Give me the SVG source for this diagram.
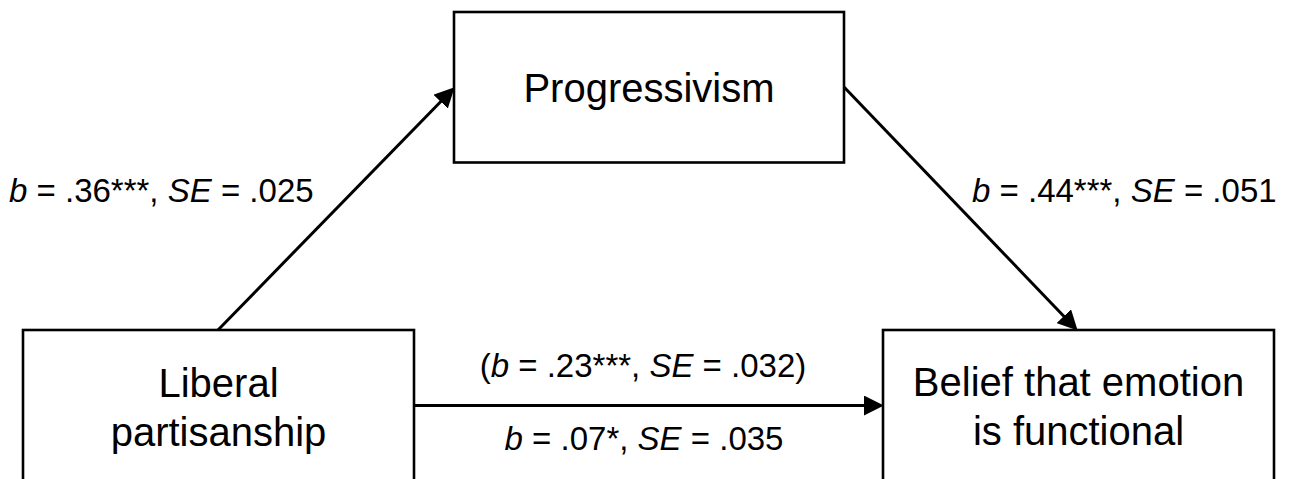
<svg xmlns="http://www.w3.org/2000/svg" width="1291" height="479" viewBox="0 0 1291 479">
<style>
.box{fill:#fff;stroke:#000;stroke-width:2.6}
.node{font-family:"Liberation Sans",Arial,sans-serif;font-size:40px;fill:#000;text-anchor:middle}
.lbl{font-family:"Liberation Sans",Arial,sans-serif;font-size:33px;fill:#000}
.it{font-style:italic}
.conn{stroke:#000;stroke-width:3;fill:none;marker-end:url(#ah)}
</style>
<defs>
<marker id="ah" markerUnits="userSpaceOnUse" markerWidth="20" markerHeight="20" refX="10" refY="9" orient="auto" viewBox="0 0 18 18">
<path d="M0,0 L18,9 L0,18 Z" fill="#000"/>
</marker>
</defs>
<rect width="1291" height="479" fill="#fff"/>
<g id="connectors">
<line class="conn" x1="218" y1="330" x2="448.4" y2="93.7"/>
<line class="conn" x1="844" y1="87" x2="1071.5" y2="324.2"/>
<line class="conn" x1="414" y1="405.5" x2="875" y2="405.5"/>
</g>
<g id="progressivism">
<rect class="box" x="454" y="12" width="390" height="150.5"/>
<text class="node" x="649" y="102">Progressivism</text>
</g>
<g id="liberal">
<rect class="box" x="23" y="330" width="391" height="200"/>
<text class="node" x="218.5" y="397">Liberal</text>
<text class="node" x="218.5" y="446">partisanship</text>
</g>
<g id="belief">
<rect class="box" x="883" y="330" width="391" height="200"/>
<text class="node" x="1078.5" y="396">Belief that emotion</text>
<text class="node" x="1078.5" y="445">is functional</text>
</g>
<g id="labels">
<text class="lbl" x="9" y="202"><tspan class="it">b</tspan> = .36***, <tspan class="it">SE</tspan> = .025</text>
<text class="lbl" x="972" y="202"><tspan class="it">b</tspan> = .44***, <tspan class="it">SE</tspan> = .051</text>
<text class="lbl" x="643" y="377" text-anchor="middle">(<tspan class="it">b</tspan> = .23***, <tspan class="it">SE</tspan> = .032)</text>
<text class="lbl" x="644" y="450" text-anchor="middle"><tspan class="it">b</tspan> = .07*, <tspan class="it">SE</tspan> = .035</text>
</g>
</svg>
